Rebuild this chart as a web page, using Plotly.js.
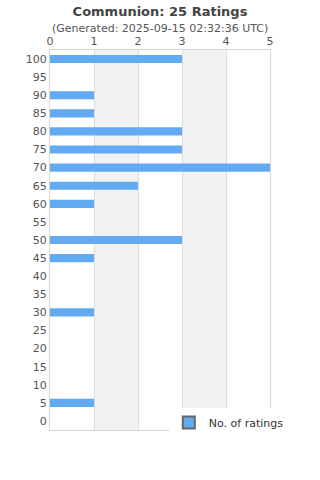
<!DOCTYPE html>
<html><head><meta charset="utf-8">
<script src="https://cdn.plot.ly/plotly-3.0.1.min.js"></script>
<style>html,body{margin:0;padding:0;background:#fff}#chart{width:320px;height:480px}</style>
</head><body><div id="chart"></div>
<script>
const categories = ["0","5","10","15","20","25","30","35","40","45","50","55","60","65","70","75","80","85","90","95","100"];
const ratings    = [0,1,0,0,0,0,1,0,0,1,3,0,1,2,5,3,3,1,1,0,3];
const titleText = "Communion: 25 Ratings";
const subtitleText = "(Generated: 2025-09-15 02:32:36 UTC)";
const seriesName = "No. of ratings";
const xTicks = [0,1,2,3,4,5];

const barColor = "#62aaf2";
const font = "DejaVu Sans, sans-serif";

const traces = [
  {type:"bar", orientation:"h", x:ratings, y:categories, marker:{color:barColor, line:{width:0}},
   showlegend:false, hoverinfo:"x+y"},
  {type:"scatter", mode:"markers", x:[null], y:[null], name:seriesName,
   marker:{symbol:"square", size:8, color:barColor, line:{color:"#666", width:1}}}
];

const shapes = [[1,2],[3,4]].map(b=>({type:"rect", xref:"x", yref:"paper", x0:b[0], x1:b[1], y0:0, y1:1,
  fillcolor:"#f2f2f2", line:{width:0}, layer:"below"}));

const layout = {
  width:320, height:480,
  margin:{l:50, r:50, t:50, b:50},
  paper_bgcolor:"#fff", plot_bgcolor:"#fff",
  font:{family:font, size:11, color:"#555"},
  title:{text:"<b>"+titleText+"</b>", x:0.5, xanchor:"center", y:0.977, yanchor:"middle",
    font:{family:font, size:13, color:"#444"}},
  annotations:[{text:subtitleText, xref:"paper", yref:"paper", x:0.5, y:1, yshift:22, xanchor:"center", yanchor:"middle",
    showarrow:false, font:{family:font, size:11, color:"#555"}}],
  bargap:0.55,
  xaxis:{side:"top", range:[0,5], tickvals:xTicks, showgrid:true, gridcolor:"#ddd", gridwidth:1,
    zeroline:false, showline:true, linecolor:"#d6d6d6", mirror:true, ticks:"", ticklen:0, fixedrange:true,
    tickfont:{family:font, size:11, color:"#555"}},
  yaxis:{type:"category", categoryorder:"array", categoryarray:categories, showgrid:false,
    showline:true, linecolor:"#d6d6d6", mirror:true, ticks:"", ticklen:0, fixedrange:true, automargin:false,
    tickfont:{family:font, size:11, color:"#555"}},
  shapes:shapes,
  showlegend:true,
  legend:{x:0.54, xanchor:"left", y:0.058, yanchor:"top", bgcolor:"#fff", borderwidth:0,
    font:{family:font, size:11, color:"#333"}, itemsizing:"constant"}
};

Plotly.newPlot("chart", traces, layout, {displayModeBar:false, staticPlot:true});
</script></body></html>
